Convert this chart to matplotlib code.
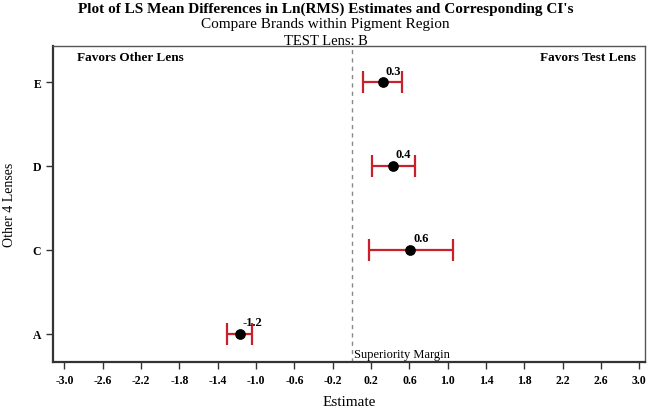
import matplotlib
matplotlib.use("Agg")
import matplotlib.pyplot as plt

# Data
lenses = ["A", "C", "D", "E"]
estimates = [-1.17, 0.61, 0.43, 0.32]
lower = [-1.30, 0.18, 0.21, 0.12]
upper = [-1.04, 1.05, 0.66, 0.52]
point_labels = ["-1.2", "0.6", "0.4", "0.3"]
xticks = [-3.0, -2.6, -2.2, -1.8, -1.4, -1.0, -0.6, -0.2, 0.2, 0.6, 1.0, 1.4, 1.8, 2.2, 2.6, 3.0]
margin = 0.0

plt.rcParams['font.family'] = ['Liberation Serif', 'DejaVu Serif']

fig = plt.figure(figsize=(6.51, 4.10), dpi=100)
ax = fig.add_axes([0.0814, 0.1146, 0.9096, 0.7704])

ypos = list(range(1, len(lenses) + 1))
xerr = [[e - l for e, l in zip(estimates, lower)],
        [u - e for e, u in zip(estimates, upper)]]
ax.errorbar(estimates, ypos, xerr=xerr, fmt='none', ecolor='#c8202c',
            elinewidth=1.6, capsize=8, capthick=1.6)
ax.scatter(estimates, ypos, s=45, color='black', zorder=3)

for x, y, t in zip(estimates, ypos, point_labels):
    ax.annotate(t, (x, y), xytext=(2, 4), textcoords='offset points',
                fontsize=9, fontweight='bold', ha='left', va='bottom')

ax.axvline(margin, color='#888888', linestyle=(0, (3, 3)), linewidth=1)

ax.set_xlim(-3.12, 3.06)
ax.set_ylim(0.66, 4.43)
ax.set_xticks(xticks)
ax.set_xticklabels([f"{v:.1f}" for v in xticks])
ax.set_yticks(ypos)
ax.set_yticklabels(lenses)
ax.tick_params(axis='both', labelsize=8.5, length=5, width=1, color='#333333')
for lab in ax.get_xticklabels() + ax.get_yticklabels():
    lab.set_fontweight('bold')

for side in ['left', 'bottom']:
    ax.spines[side].set_linewidth(1.6)
    ax.spines[side].set_color('#333333')
for side in ['top', 'right']:
    ax.spines[side].set_linewidth(1.0)
    ax.spines[side].set_color('#555555')

ax.set_xlabel("Estimate", fontsize=11)
ax.xaxis.set_label_coords(0.5, -0.105)
ax.set_ylabel("Other 4 Lenses", fontsize=10)
ax.yaxis.set_label_coords(-0.062, 0.5)

ax.text(0.13, 0.985, "Favors Other Lens", transform=ax.transAxes,
        fontsize=9.5, fontweight='bold', ha='center', va='top')
ax.text(0.985, 0.985, "Favors Test Lens", transform=ax.transAxes,
        fontsize=9.5, fontweight='bold', ha='right', va='top')
ax.text(margin + 0.02, 0.005, "Superiority Margin", transform=ax.get_xaxis_transform(),
        fontsize=9, ha='left', va='bottom')

fig.text(0.5, 0.995, "Plot of LS Mean Differences in Ln(RMS) Estimates and Corresponding CI's",
         fontsize=11, fontweight='bold', ha='center', va='top')
fig.text(0.5, 0.955, "Compare Brands within Pigment Region", fontsize=11, ha='center', va='top')
fig.text(0.5, 0.915, "TEST Lens: B", fontsize=10.5, ha='center', va='top')

fig.savefig("out.png", dpi=100)
